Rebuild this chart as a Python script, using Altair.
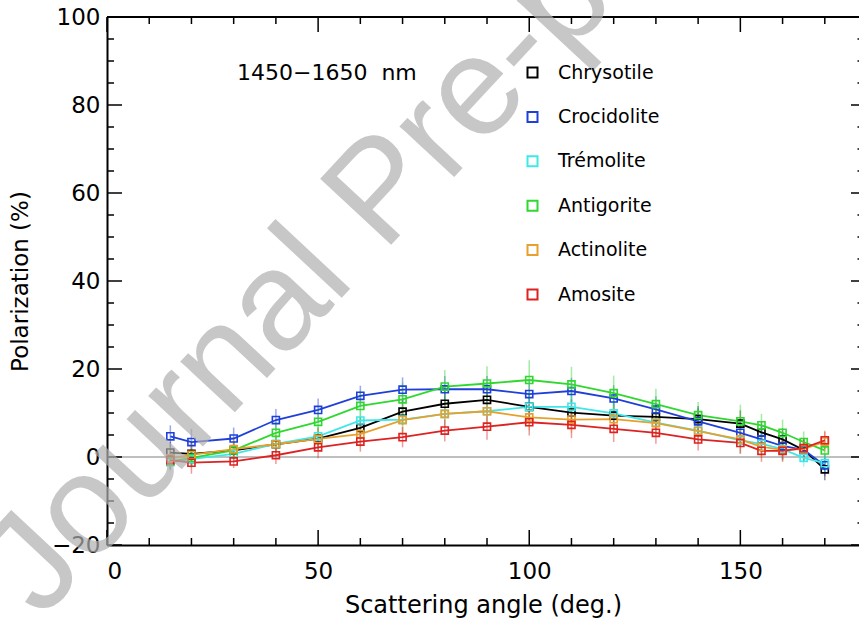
import altair as alt
import pandas as pd

# Scattering angles (deg.) shared by all samples
angles = [15, 20, 30, 40, 50, 60, 70, 80, 90, 100, 110, 120, 130, 140, 150, 155, 160, 165, 170]

minerals = ["Chrysotile", "Crocidolite", "Trémolite", "Antigorite", "Actinolite", "Amosite"]
colors = ["#000000", "#1f40d8", "#3ee8e8", "#2fd82f", "#e8a02c", "#dd2222"]

# Degree of linear polarization (%) per sample
chrysotile = [1.0, 0.7, 1.5, 2.9, 4.2, 6.6, 10.3, 12.1, 13.0, 11.4, 10.1, 9.4, 9.1, 8.6, 7.6, 5.6, 4.0, 1.6, -2.8]
crocidolite = [4.7, 3.4, 4.2, 8.4, 10.7, 13.9, 15.3, 15.4, 15.4, 14.3, 15.0, 13.3, 10.8, 8.1, 5.5, 4.0, 2.5, 1.6, -1.9]
tremolite = [-1.2, -0.5, 0.7, 3.0, 4.7, 8.3, 8.5, 9.8, 10.4, 11.4, 11.4, 9.9, 7.8, 6.0, 3.8, 3.0, 1.8, -0.2, -1.4]
antigorite = [-1.0, -0.2, 1.5, 5.5, 8.0, 11.6, 13.1, 16.0, 16.7, 17.5, 16.5, 14.5, 12.0, 9.5, 8.1, 7.2, 5.5, 3.4, 1.5]
actinolite = [-0.3, 0.5, 1.8, 2.9, 4.1, 5.2, 8.4, 9.8, 10.4, 9.0, 8.5, 8.6, 7.7, 5.9, 4.0, 2.3, 1.6, 1.8, 3.5]
amosite = [-0.7, -1.3, -1.0, 0.4, 2.2, 3.5, 4.5, 6.0, 6.9, 7.9, 7.3, 6.4, 5.5, 4.0, 3.2, 1.4, 1.4, 2.0, 3.8]

# Half-length of the uncertainty bars (%)
err_chrysotile = [2.5, 2.5, 2.0, 2.0, 2.5, 2.5, 3.0, 3.0, 3.0, 3.0, 3.0, 3.0, 3.0, 3.0, 3.0, 2.5, 2.5, 2.5, 2.5]
err_crocidolite = [2.5, 3.0, 2.5, 2.5, 2.6, 2.3, 2.8, 3.0, 3.0, 3.0, 3.0, 3.0, 3.0, 3.0, 3.0, 3.0, 3.0, 2.5, 2.5]
err_tremolite = [2.0, 2.0, 2.0, 2.0, 2.5, 2.5, 3.0, 3.0, 3.0, 3.0, 3.0, 3.0, 3.0, 3.0, 3.0, 2.5, 2.5, 2.0, 2.0]
err_antigorite = [2.0, 2.0, 2.0, 2.5, 3.0, 3.5, 3.8, 3.8, 3.9, 4.5, 4.0, 4.0, 3.5, 3.0, 3.8, 2.6, 3.0, 2.4, 2.0]
err_actinolite = [2.5, 2.5, 2.5, 2.5, 2.5, 3.0, 3.0, 3.0, 3.0, 3.0, 3.0, 3.0, 3.0, 3.0, 3.0, 2.5, 2.5, 2.5, 2.5]
err_amosite = [2.0, 2.5, 1.5, 2.0, 2.5, 2.3, 2.3, 2.5, 3.0, 3.0, 3.0, 3.0, 2.5, 2.5, 2.5, 2.5, 2.5, 2.0, 2.0]

values = [chrysotile, crocidolite, tremolite, antigorite, actinolite, amosite]
errors = [err_chrysotile, err_crocidolite, err_tremolite, err_antigorite, err_actinolite, err_amosite]

rows = []
for name, vals, errs in zip(minerals, values, errors):
    for a, v, e in zip(angles, vals, errs):
        rows.append({"mineral": name, "angle": a, "pol": v, "lo": v - e, "hi": v + e})
df = pd.DataFrame(rows)

# Axis tick positions (drawn inward on all four sides)
x_major = [0, 50, 100, 150]
x_minor = [t for t in range(0, 180, 10) if t % 50 != 0]
y_major = [-20, 0, 20, 40, 60, 80, 100]
y_minor = [t for t in range(-20, 101, 5) if t % 20 != 0]

W, H = 752, 528
FONT = "DejaVu Sans"

x_scale = alt.Scale(domain=[0, 178.1], nice=False, zero=False)
y_scale = alt.Scale(domain=[-20, 100], nice=False, zero=False)

x_enc = alt.X(
    "angle:Q", scale=x_scale,
    axis=alt.Axis(values=x_major, title="Scattering angle (deg.)", ticks=False,
                  grid=False, domainColor="black", domainWidth=2, labelFontSize=23,
                  labelPadding=15, titleFontSize=24, titleFontWeight="normal",
                  titlePadding=10, labelColor="black", titleColor="black"),
)
y_enc = alt.Y(
    "pol:Q", scale=y_scale,
    axis=alt.Axis(values=y_major, title="Polarization (%)", ticks=False,
                  grid=False, domainColor="black", domainWidth=2, labelFontSize=23,
                  labelPadding=7, titleFontSize=23, titleFontWeight="normal",
                  titlePadding=19, labelColor="black", titleColor="black"),
)

color_enc = alt.Color(
    "mineral:N", scale=alt.Scale(domain=minerals, range=colors),
    legend=alt.Legend(title=None, orient="none", legendX=416, legendY=46, symbolType="square",
                      symbolSize=100, symbolStrokeWidth=2, symbolFillColor="transparent",
                      symbolOpacity=1, labelFontSize=19, labelOffset=16, rowPadding=24.4,
                      padding=0, labelColor="black", labelFont=FONT),
)

base = alt.Chart(df)

errbars = base.mark_rule(strokeWidth=1.5, opacity=0.45).encode(
    x=x_enc, y=alt.Y("lo:Q", scale=y_scale), y2="hi:Q", color=color_enc
)

zero_line = alt.Chart(pd.DataFrame({"z": [0]})).mark_rule(color="#808080", strokeWidth=1.2).encode(
    y=alt.Y("z:Q", scale=y_scale), x=alt.value(0), x2=alt.value(W)
)

lines = base.mark_line(strokeWidth=1.8).encode(
    x=x_enc, y=y_enc, color=color_enc, order=alt.Order("angle:Q")
)

points = base.mark_point(shape="square", filled=False, size=50, strokeWidth=1.6, opacity=1).encode(
    x=x_enc, y=y_enc, color=color_enc
)

top_line = alt.Chart(pd.DataFrame({"z": [0]})).mark_rule(color="black", strokeWidth=2).encode(
    x=alt.value(0), x2=alt.value(W), y=alt.value(0)
)

MAJ, MIN = 15, 7


def x_ticks(vals, y0, y1):
    return alt.Chart(pd.DataFrame({"t": vals})).mark_rule(color="black", strokeWidth=1.5).encode(
        x=alt.X("t:Q", scale=x_scale), y=alt.value(y0), y2=alt.value(y1)
    )


def y_ticks(vals, x0, x1):
    return alt.Chart(pd.DataFrame({"t": vals})).mark_rule(color="black", strokeWidth=1.5).encode(
        y=alt.Y("t:Q", scale=y_scale), x=alt.value(x0), x2=alt.value(x1)
    )


tick_layers = [
    x_ticks(x_major, H, H - MAJ), x_ticks(x_minor, H, H - MIN),
    x_ticks(x_major, 0, MAJ), x_ticks(x_minor, 0, MIN),
    y_ticks(y_major, 0, MAJ), y_ticks(y_minor, 0, MIN),
    # right-hand axis sits just past the drawn area, only tick tips reach inside
    y_ticks(y_major, W - 8, W), y_ticks(y_minor, W - 1.5, W),
]

band_label = alt.Chart(pd.DataFrame({"s": ["1450−1650\u00a0 nm"]})).mark_text(
    align="left", baseline="middle", fontSize=22, font=FONT, color="black"
).encode(x=alt.value(130), y=alt.value(56), text="s:N")

watermark = alt.Chart(pd.DataFrame({"s": ["Journal Pre-proof"]})).mark_text(
    align="center", baseline="middle", fontSize=141, font="Liberation Sans",
    color="#b0b0b0", opacity=0.7, angle=313
).encode(x=alt.value(275), y=alt.value(176), text="s:N")

chart = alt.layer(
    zero_line, errbars, lines, points, top_line, *tick_layers, band_label, watermark
).properties(
    width=W, height=H,
    autosize=alt.AutoSizeParams(type="none"),
    padding={"left": 107, "top": 17, "right": 0, "bottom": 78},
).configure_view(stroke=None).configure(font=FONT, background="white")

chart.save("out.html", embed_options={"renderer": "svg", "actions": False})
